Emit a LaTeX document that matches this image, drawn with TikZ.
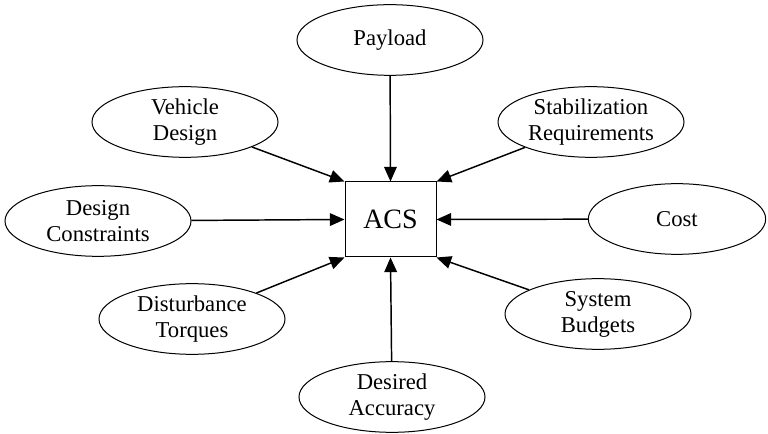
\documentclass[tikz,border=0pt]{standalone}
\usepackage{fontspec}
\setmainfont{Liberation Serif}
\usetikzlibrary{shapes.geometric,arrows.meta}
\newcommand{\zw}[1]{\makebox[0pt][c]{#1}}
\begin{document}
\begin{tikzpicture}[x=0.75pt,y=-0.75pt,
  oval/.style={ellipse,draw,line width=0.75pt,inner sep=0pt,align=center,
    minimum width=139.5pt,minimum height=53pt,
    font=\fontsize{17}{19.5}\selectfont},
  acsbox/.style={rectangle,draw,line width=0.75pt,inner sep=0pt,
    minimum width=68.25pt,minimum height=56.25pt,font=\fontsize{21}{24}\selectfont},
  conn/.style={line width=1.1pt,-{Triangle[length=11pt,width=9.5pt]}}]
\useasboundingbox (0,0) rectangle (768,434);
\node[acsbox] (acs) at (390.5,219.5) {ACS};
\node[oval] (pay) at (390,40) {\zw{Payload}};
\node[oval] (veh) at (185,122) {\zw{Vehicle}\\\zw{Design}};
\node[oval] (stab) at (591,122) {\zw{Stabilization}\\\zw{Requirements}};
\node[oval] (dc) at (98,221) {\zw{Design}\\\zw{Constraints}};
\node[oval,minimum width=133pt] (cost) at (677,219) {\zw{Cost}};
\node[oval] (dist) at (192,319) {\zw{Disturbance}\\\zw{Torques}};
\node[oval] (sb) at (598,314) {\zw{System}\\\zw{Budgets}};
\node[oval] (da) at (392,397) {\zw{Desired}\\\zw{Accuracy}};
\draw[conn] (pay) -- (acs.north);
\draw[conn] (veh) -- (acs.north west);
\draw[conn] (stab) -- (acs.north east);
\draw[conn] (dc) -- (acs.west);
\draw[conn] (cost) -- (acs.east);
\draw[conn] (dist) -- (acs.south west);
\draw[conn] (sb) -- (acs.south east);
\draw[conn] (da) -- (acs.south);
\end{tikzpicture}
\end{document}
